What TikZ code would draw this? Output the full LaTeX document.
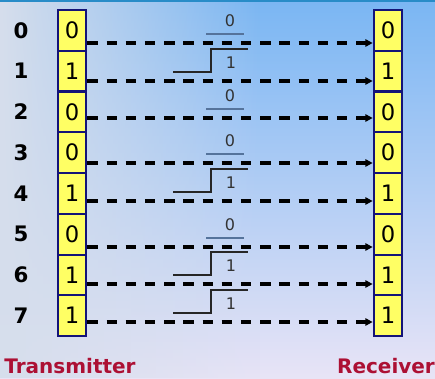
\documentclass[tikz,border=0pt]{standalone}
\usepackage{fontspec}
\setmainfont{DejaVu Sans}
\usetikzlibrary{arrows.meta,fadings}

\definecolor{bgtop}{RGB}{122,182,243}
\definecolor{bgmid}{RGB}{165,203,246}
\definecolor{bgbot}{RGB}{232,228,246}
\definecolor{bgleft}{RGB}{214,222,236}
\definecolor{topedge}{RGB}{40,140,200}
\definecolor{boxline}{RGB}{20,20,120}
\definecolor{boxfill}{RGB}{255,255,100}
\definecolor{lowgray}{RGB}{85,115,155}
\definecolor{titlered}{RGB}{172,16,52}

\tikzset{every picture/.style={line width=0.75pt}}
\tikzset{
  bitbox/.style={draw=boxline, fill=boxfill, line width=1.5pt, minimum width=21.5pt,
    minimum height=30.56pt, inner sep=0pt, font=\fontsize{17}{20}\selectfont},
  rowlabel/.style={font=\fontsize{16}{19}\bfseries\selectfont},
  dataline/.style={line width=2.4pt, dash pattern=on 7.8pt off 6.6pt,
    -{Triangle[length=5.5pt,width=5.5pt]}},
  lowline/.style={draw=lowgray, line width=1pt},
  stepline/.style={draw=black!85, line width=1.2pt},
  siglabel/.style={font=\fontsize{12}{14}\selectfont, text=black!80},
  endlabel/.style={font=\fontsize{15}{18}\bfseries\selectfont, text=titlered}
}

\begin{document}
\begin{tikzpicture}[x=0.75pt,y=0.75pt,yscale=-1,xscale=1]
	\useasboundingbox (0,0) rectangle (435,378);

	%Shape: Background
	\shade[top color=bgtop, middle color=bgmid, bottom color=bgbot] (0,0) rectangle (435,378);
	\fill[bgleft, path fading=east] (0,0) rectangle (260,378);
	\draw[topedge, line width=1.5pt] (0,1) -- (435,1);

	%Rows: index, sent bit, received bit, link and signal
	\foreach \i/\b/\ly in {0/0/43,1/1/81,2/0/118,3/0/163,4/1/201,5/0/247,6/1/284,7/1/322}{
		\pgfmathsetmacro{\cy}{30.375+40.75*\i}
		\pgfmathsetmacro{\dy}{(\ly-\cy)*0.75}
		\node[rowlabel] (n\i) at (21,\cy) {\i};
		\node[bitbox] (t\i) at (72,\cy) {\b};
		\node[bitbox] (r\i) at (388,\cy) {\b};
		\draw[dataline] ([yshift=\dy pt]t\i.east) -- ([yshift=\dy pt]r\i.west);
		\ifnum\b=0
			\draw[lowline] (206,{\ly-9}) -- (244,{\ly-9});
			\node[siglabel] (s\i) at (230,{\ly-22}) {0};
		\else
			\draw[stepline] (173,{\ly-9}) -- (211,{\ly-9}) -- (211,{\ly-32}) -- (248,{\ly-32});
			\node[siglabel] (s\i) at (231,{\ly-18}) {1};
		\fi
	}

	% Text Node
	\node[endlabel] (tx) at (70,366) {Transmitter};
	% Text Node
	\node[endlabel] (rx) at (386,366) {Receiver};

\end{tikzpicture}
\end{document}
